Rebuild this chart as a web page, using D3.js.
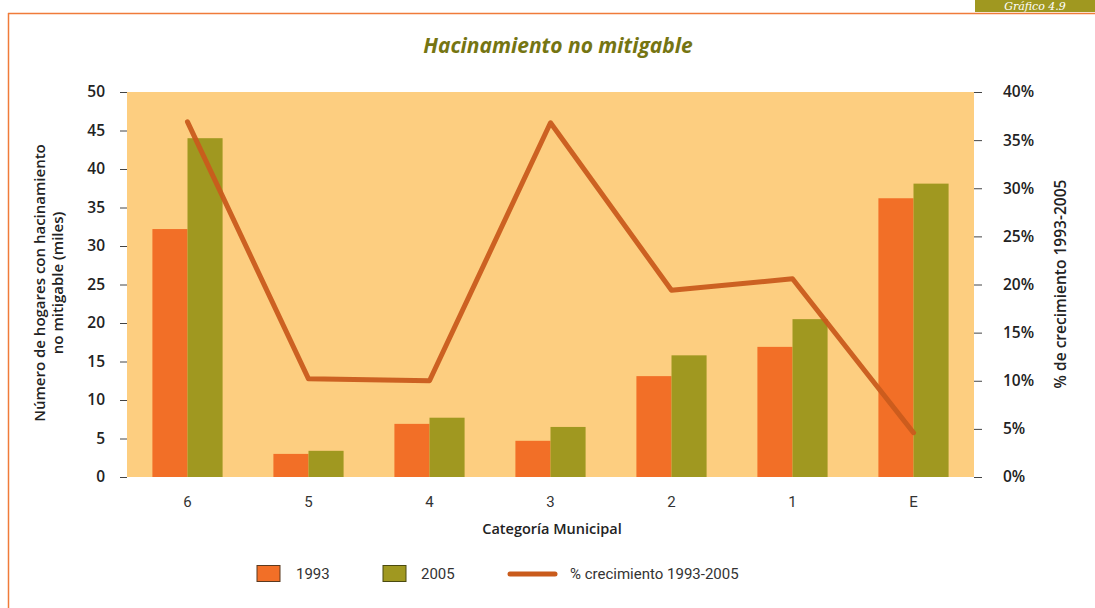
<!DOCTYPE html>
<html>
<head>
<meta charset="utf-8">
<script src="https://cdn.jsdelivr.net/npm/d3@7"></script>
<style>
  body { margin: 0; background: #fff; }
  svg { display: block; }
</style>
</head>
<body>
<svg id="chart" width="1095" height="608"></svg>
<script>
// Data
const categories = ["6", "5", "4", "3", "2", "1", "E"];
const values1993 = [32.2, 3.0, 6.9, 4.7, 13.1, 16.9, 36.2];
const values2005 = [44.0, 3.4, 7.7, 6.5, 15.8, 20.5, 38.1];
const growthPct = [36.9, 10.2, 10.0, 36.8, 19.4, 20.6, 4.6];
const leftTicks = [0, 5, 10, 15, 20, 25, 30, 35, 40, 45, 50];
const rightTicks = [0, 5, 10, 15, 20, 25, 30, 35, 40];
const seriesNames = ["1993", "2005", "% crecimiento 1993-2005"];

const colors = {
  bg: "#fdce80",
  b1993: "#f26f27",
  b2005: "#a09820",
  line: "#c95b1c",
  frame: "#f07b3a",
  title: "#757512",
  text: "#222"
};

const plot = { left: 127, right: 974, top: 92, bottom: 477 };

const svg = d3.select("#chart");

// Frame and corner label
svg.append("line")
  .attr("x1", 8).attr("x2", 1095).attr("y1", 13.5).attr("y2", 13.5)
  .attr("stroke", colors.frame).attr("stroke-width", 1.5);
svg.append("line")
  .attr("x1", 8.5).attr("x2", 8.5).attr("y1", 13).attr("y2", 608)
  .attr("stroke", colors.frame).attr("stroke-width", 1.5);

svg.append("rect")
  .attr("x", 975).attr("y", 0).attr("width", 120).attr("height", 12)
  .attr("fill", colors.b2005);
svg.append("text")
  .attr("x", 1035).attr("y", 10)
  .attr("text-anchor", "middle")
  .attr("font-family", "DejaVu Serif, serif")
  .attr("font-style", "italic")
  .attr("font-size", "11px")
  .attr("fill", "#fff")
  .text("Gráfico 4.9");

// Title
svg.append("text")
  .attr("x", 558).attr("y", 53)
  .attr("text-anchor", "middle")
  .attr("font-family", "Open Sans, sans-serif")
  .attr("font-style", "italic")
  .attr("font-weight", "bold")
  .attr("font-size", "21px")
  .attr("fill", colors.title)
  .text("Hacinamiento no mitigable");

// Background of plot
svg.append("rect")
  .attr("x", plot.left).attr("y", plot.top)
  .attr("width", plot.right - plot.left).attr("height", plot.bottom - plot.top)
  .attr("fill", colors.bg);

// Scales
const x = d3.scaleBand()
  .domain(categories)
  .range([plot.left, plot.right])
  .paddingInner(0.42)
  .paddingOuter(0.21);

const yLeft = d3.scaleLinear().domain([0, 50]).range([plot.bottom, plot.top]);
const yRight = d3.scaleLinear().domain([0, 40]).range([plot.bottom, plot.top]);

// Bars
const barW = x.bandwidth() / 2;
const barData = categories.map((c, i) => ({ cat: c, v1993: values1993[i], v2005: values2005[i] }));

svg.append("g").selectAll("rect")
  .data(barData)
  .join("rect")
  .attr("x", (d) => x(d.cat))
  .attr("y", (d) => yLeft(d.v1993))
  .attr("width", barW)
  .attr("height", (d) => yLeft(0) - yLeft(d.v1993))
  .attr("fill", colors.b1993);

svg.append("g").selectAll("rect")
  .data(barData)
  .join("rect")
  .attr("x", (d) => x(d.cat) + barW)
  .attr("y", (d) => yLeft(d.v2005))
  .attr("width", barW)
  .attr("height", (d) => yLeft(0) - yLeft(d.v2005))
  .attr("fill", colors.b2005);

// Growth line
const line = d3.line()
  .x((d, i) => x(categories[i]) + x.bandwidth() / 2)
  .y((d) => yRight(d));

svg.append("path")
  .datum(growthPct)
  .attr("d", line)
  .attr("fill", "none")
  .attr("stroke", colors.line)
  .attr("stroke-width", 5)
  .attr("stroke-linejoin", "round")
  .attr("stroke-linecap", "round")
  .attr("opacity", 0.95);

// Left axis
const leftAxis = svg.append("g")
  .attr("transform", `translate(${plot.left}, 0)`)
  .call(d3.axisLeft(yLeft).tickValues(leftTicks).tickSize(7).tickPadding(15));
leftAxis.select(".domain").remove();
leftAxis.selectAll(".tick line").attr("stroke", "#444");
leftAxis.selectAll("text")
  .attr("font-family", "Open Sans, sans-serif")
  .attr("font-weight", "600")
  .attr("font-size", "15.5px")
  .attr("fill", colors.text);

// Right axis
const rightAxis = svg.append("g")
  .attr("transform", `translate(${plot.right}, 0)`)
  .call(d3.axisRight(yRight).tickValues(rightTicks).tickSize(8).tickPadding(21)
    .tickFormat((d) => d + "%"));
rightAxis.select(".domain").remove();
rightAxis.selectAll(".tick line").attr("stroke", "#444");
rightAxis.selectAll("text")
  .attr("font-family", "Open Sans, sans-serif")
  .attr("font-weight", "600")
  .attr("font-size", "15.5px")
  .attr("fill", colors.text);

// X axis labels
const xAxis = svg.append("g")
  .attr("transform", `translate(0, ${plot.bottom})`)
  .call(d3.axisBottom(x).tickSize(0).tickPadding(19));
xAxis.select(".domain").remove();
xAxis.selectAll("text")
  .attr("font-family", "Liberation Sans Narrow, Roboto, sans-serif")
  .attr("font-size", "15px")
  .attr("fill", "#333");

// Axis titles
svg.append("text")
  .attr("x", 552).attr("y", 534)
  .attr("text-anchor", "middle")
  .attr("font-family", "Open Sans, sans-serif")
  .attr("font-weight", "600")
  .attr("font-size", "14.5px")
  .attr("fill", colors.text)
  .text("Categoría Municipal");

const leftTitle = svg.append("text")
  .attr("transform", "translate(45, 283) rotate(-90)")
  .attr("text-anchor", "middle")
  .attr("font-family", "Open Sans, sans-serif")
  .attr("font-weight", "600")
  .attr("font-size", "15px")
  .attr("fill", colors.text);
leftTitle.append("tspan").attr("x", 0).attr("dy", 0).text("Número de hogares con hacinamiento");
leftTitle.append("tspan").attr("x", 0).attr("dy", 18).text("no mitigable (miles)");

svg.append("text")
  .attr("transform", "translate(1066, 284) rotate(-90)")
  .attr("text-anchor", "middle")
  .attr("font-family", "Open Sans, sans-serif")
  .attr("font-weight", "600")
  .attr("font-size", "15.5px")
  .attr("fill", colors.text)
  .text("% de crecimiento 1993-2005");

// Legend
const legend = svg.append("g").attr("font-family", "Liberation Sans Narrow, Roboto, sans-serif")
  .attr("font-size", "15px").attr("fill", "#333");

legend.append("rect").attr("x", 257).attr("y", 565.5).attr("width", 23).attr("height", 16)
  .attr("fill", colors.b1993).attr("stroke", "#5a3a20").attr("stroke-width", 1);
legend.append("text").attr("x", 296).attr("y", 579).text(seriesNames[0]);

legend.append("rect").attr("x", 383).attr("y", 565.5).attr("width", 23).attr("height", 16)
  .attr("fill", colors.b2005).attr("stroke", "#4a4a10").attr("stroke-width", 1);
legend.append("text").attr("x", 421).attr("y", 579).text(seriesNames[1]);

legend.append("line").attr("x1", 510).attr("x2", 555).attr("y1", 574).attr("y2", 574)
  .attr("stroke", colors.line).attr("stroke-width", 5).attr("stroke-linecap", "round");
legend.append("text").attr("x", 570).attr("y", 579).text(seriesNames[2]);
</script>
</body>
</html>
